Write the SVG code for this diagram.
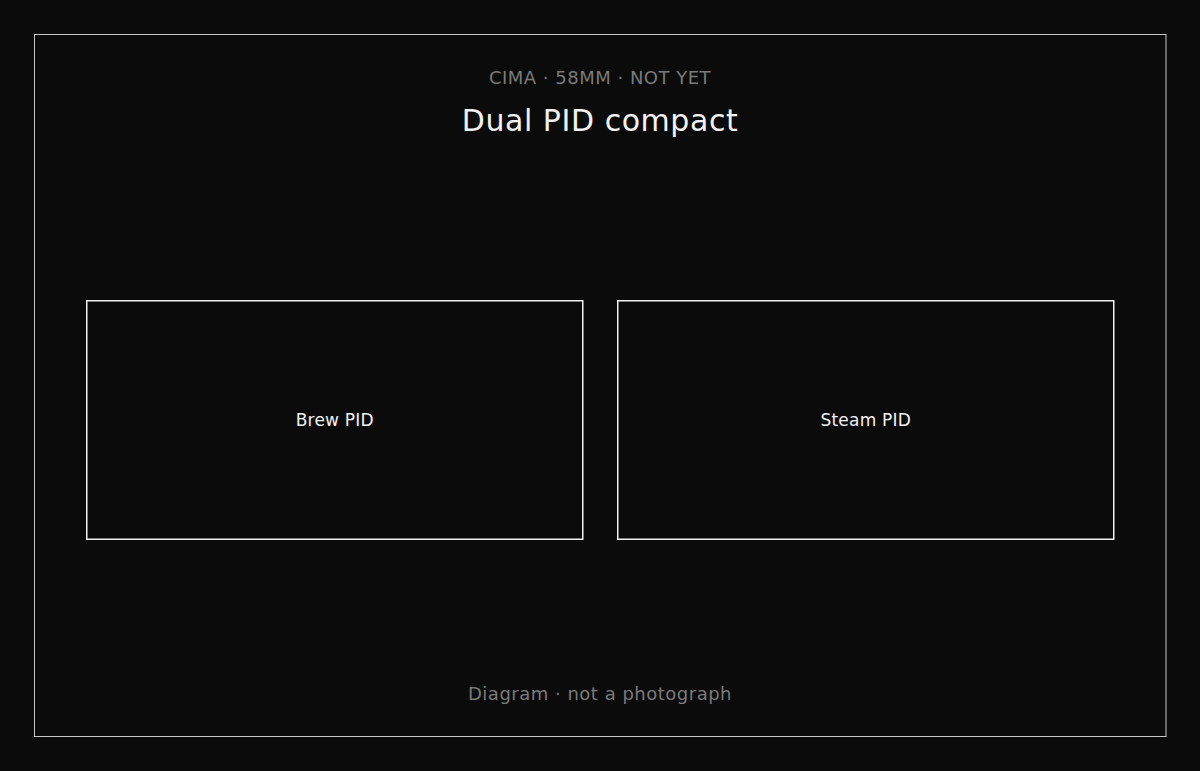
<svg xmlns="http://www.w3.org/2000/svg" width="1200" height="771" viewBox="0 0 1200 771">
<style>
text{font-family:"DejaVu Sans","Liberation Sans",sans-serif;text-anchor:middle}
.muted{fill:#7a7a7a;font-size:18px;letter-spacing:0.5px}
.title{fill:#f2f2f2;font-size:30px;letter-spacing:0.55px}
.box{fill:#0b0b0b;stroke:#f2f2f2;stroke-width:1.5}
.lbl{fill:#f2f2f2;font-size:17px;letter-spacing:0.2px}
</style>
<rect width="1200" height="771" fill="#0b0b0b"/>
<rect x="34.5" y="34.5" width="1131.5" height="702" fill="none" stroke="#c8c8c8" stroke-width="1"/>
<text class="muted" x="600" y="84">CIMA · 58MM · NOT YET</text>
<text class="title" x="600" y="131">Dual PID compact</text>
<g id="brew-pid">
<rect class="box" x="86.75" y="300.75" width="496" height="238.5"/>
<text class="lbl" x="334.75" y="426">Brew PID</text>
</g>
<g id="steam-pid">
<rect class="box" x="617.75" y="300.75" width="496" height="238.5"/>
<text class="lbl" x="865.75" y="426">Steam PID</text>
</g>
<g id="connectors"></g>
<text class="muted" x="600" y="700">Diagram · not a photograph</text>
</svg>
